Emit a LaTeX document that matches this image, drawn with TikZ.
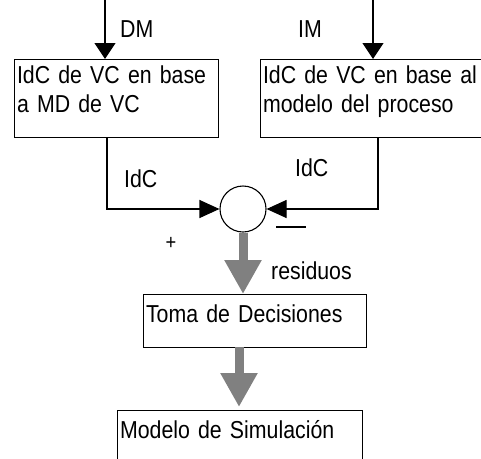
\documentclass[tikz,border=0pt]{standalone}
\usepackage{fontspec}
\setmainfont{Liberation Sans}[FakeStretch=0.87]
\usetikzlibrary{arrows.meta}

\definecolor{flowgray}{RGB}{128,128,128}

\tikzset{
  every node/.style={font=\fontsize{24.5}{29}\selectfont},
  blockbox/.style={draw, rectangle, anchor=north west, inner xsep=2.5pt, inner ysep=0pt, align=left, line width=1.1pt},
  sumnode/.style={draw, circle, minimum size=46pt, inner sep=0pt, line width=1.1pt},
  lbl/.style={anchor=base west, inner sep=0pt},
  arrin/.style={line width=1.1pt, -{Triangle[length=16pt,width=21pt]}},
  arrsum/.style={line width=1.1pt, -{Triangle[length=20pt,width=18pt]}},
  bigarr/.style={draw=flowgray, line width=9pt, -{Triangle[length=34pt,width=35pt]}}
}

\begin{document}
\begin{tikzpicture}[x=1pt, y=-1pt]
	\useasboundingbox (0,0) rectangle (481,458);
	\clip (0,0) rectangle (481,458);
	% boxes
	\node[blockbox, text width=199pt, text height=24pt, text depth=54pt] (dmbox) at (14,59) {IdC de VC en base\\a MD de VC};
	\node[blockbox, text width=220pt, text height=24pt, text depth=54pt] (imbox) at (260,59) {IdC de VC en base al\\modelo del proceso};
	\node[sumnode] (sum) at (243,209) {};
	\node[blockbox, text width=218pt, text height=28pt, text depth=25pt] (toma) at (143,294) {Toma de Decisiones};
	\node[blockbox, text width=240pt, text height=28pt, text depth=40pt] (modelo) at (117,410) {Modelo de Simulaci\'on};
	% inputs
	\coordinate (dmtop) at (105,0);
	\coordinate (imtop) at (373,0);
	\draw[arrin] (dmtop) -- (dmtop |- dmbox.north);
	\draw[arrin] (imtop) -- (imtop |- imbox.north);
	\node[lbl] (dmlbl) at (120,37) {DM};
	\node[lbl] (imlbl) at (298,37) {IM};
	% outputs to the comparator
	\coordinate (dmout) at (107,137);
	\coordinate (imout) at (378,137);
	\draw[arrsum] (dmout) |- (sum.west);
	\draw[arrsum] (imout) |- (sum.east);
	\node[lbl] (idcl) at (124,187) {IdC};
	\node[lbl] (idcr) at (295,176) {IdC};
	\node[font=\fontsize{21}{24}\selectfont] (plus) at (171,243) {+};
	\draw[line width=1.1pt] (276,227) -- (306,227);
	% residuals and decision
	\draw[bigarr] (sum.south) -- (sum.south |- toma.north);
	\node[lbl] (res) at (271,279) {residuos};
	\coordinate (tomaout) at (239,347);
	\draw[bigarr, shorten >=3pt] (tomaout) -- (tomaout |- modelo.north);
\end{tikzpicture}
\end{document}
